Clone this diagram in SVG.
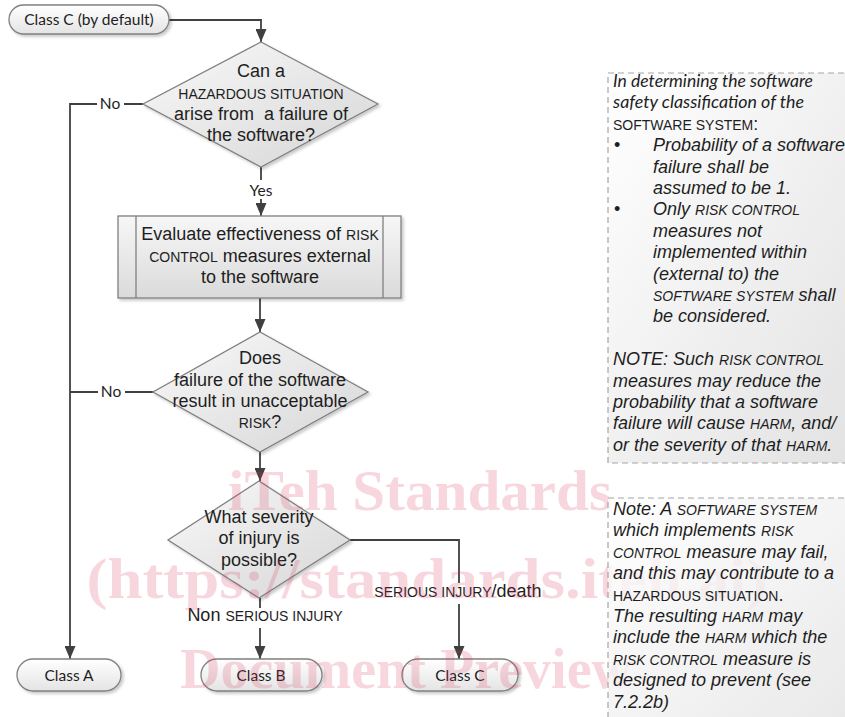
<svg xmlns="http://www.w3.org/2000/svg" width="845" height="717" viewBox="0 0 845 717">
<defs>
  <style>
    .t{font-family:"Liberation Sans",Arial,sans-serif;font-size:18px;fill:#1e1e1e;text-anchor:middle}
    .sc{font-size:14px}
    .cal{font-family:Lato,"Open Sans",sans-serif;font-size:15.5px;fill:#1e1e1e;text-anchor:middle}
    .n{font-family:"Liberation Sans",Arial,sans-serif;font-size:18px;font-style:italic;fill:#1e1e1e}
    .nsc{font-size:14px}
    .up{font-style:normal}
    .calI{font-family:Lato,"Open Sans",sans-serif;font-style:italic;font-size:17px;fill:#1e1e1e}
    .shape{stroke:#808080;stroke-width:1.3}
    .conn{fill:none;stroke:#404040;stroke-width:1.8}
    .wm{font-family:"Liberation Serif","Times New Roman",serif;font-weight:bold;font-size:58px;fill:#d9385e;opacity:0.2;text-anchor:middle}
    .note{stroke:#a6a6a6;stroke-width:1.2;stroke-dasharray:6 4}
  </style>
  <linearGradient id="termG" x1="0" y1="0" x2="0" y2="1">
    <stop offset="0" stop-color="#ffffff"/><stop offset="1" stop-color="#e4e4e4"/>
  </linearGradient>
  <linearGradient id="diaG" x1="0" y1="0" x2="1" y2="1">
    <stop offset="0" stop-color="#f9f9f9"/><stop offset="1" stop-color="#d6d6d6"/>
  </linearGradient>
  <linearGradient id="procG" x1="0" y1="0" x2="0" y2="1">
    <stop offset="0" stop-color="#f7f7f7"/><stop offset="1" stop-color="#dadada"/>
  </linearGradient>
  <linearGradient id="noteG" x1="0" y1="0" x2="1" y2="1">
    <stop offset="0" stop-color="#ffffff"/><stop offset="1" stop-color="#e2e2e2"/>
  </linearGradient>
  <filter id="sh" x="-10%" y="-10%" width="130%" height="140%">
    <feDropShadow dx="2" dy="2" stdDeviation="1.5" flood-color="#000" flood-opacity="0.22"/>
  </filter>
  <marker id="ah" viewBox="0 0 13 11" refX="13" refY="5.5" markerWidth="13" markerHeight="11" markerUnits="userSpaceOnUse" orient="auto">
    <path d="M0,0 L13,5.5 L0,11 z" fill="#404040"/>
  </marker>
</defs>
<rect width="845" height="717" fill="#ffffff"/>

<g id="connectors">
  <path class="conn" d="M169,20 H261 V42" marker-end="url(#ah)"/>
  <path class="conn" d="M261,167 V180 M261,199 V216" marker-end="url(#ah)"/>
  <path class="conn" d="M143,104 H124 M97,104 H70 V659" marker-end="url(#ah)"/>
  <path class="conn" d="M260,298 V332" marker-end="url(#ah)"/>
  <path class="conn" d="M153,392 H125 M98,392 H70"/>
  <path class="conn" d="M260,452 V481" marker-end="url(#ah)"/>
  <path class="conn" d="M260,598 V608 M260,628 V659" marker-end="url(#ah)"/>
  <path class="conn" d="M350,540 H459 V583 M459,604 V659" marker-end="url(#ah)"/>
  <text class="cal" x="110" y="109">No</text>
  <text class="cal" x="111" y="397">No</text>
  <text class="cal" x="261" y="196">Yes</text>
  <text class="t" x="265" y="621">Non <tspan class="sc">SERIOUS INJURY</tspan></text>
  <text class="t" x="458" y="597"><tspan class="sc">SERIOUS INJURY</tspan>/death</text>
</g>

<g id="start">
  <rect class="shape" x="9" y="5" width="160" height="29" rx="14.5" fill="url(#termG)" filter="url(#sh)"/>
  <text class="cal" x="89" y="25">Class C (by default)</text>
</g>

<g id="decision1">
  <polygon class="shape" points="261,42 378,104 261,167 143,104" fill="url(#diaG)" filter="url(#sh)"/>
  <text class="t" x="261" y="77">Can a</text>
  <text class="t sc" x="261" y="99">HAZARDOUS SITUATION</text>
  <text class="t" x="261" y="120" xml:space="preserve">arise from  a failure of</text>
  <text class="t" x="261" y="141">the software?</text>
</g>

<g id="process">
  <rect class="shape" x="118" y="216" width="283" height="82" fill="url(#procG)" filter="url(#sh)" stroke-width="1.6"/>
  <line class="shape" x1="136" y1="216" x2="136" y2="298"/>
  <line class="shape" x1="383" y1="216" x2="383" y2="298"/>
  <text class="t" x="260" y="240">Evaluate effectiveness of <tspan class="sc">RISK</tspan></text>
  <text class="t" x="260" y="262"><tspan class="sc">CONTROL</tspan> measures external</text>
  <text class="t" x="260" y="283">to the software</text>
</g>

<g id="decision2">
  <polygon class="shape" points="260,332 368,392 260,452 153,392" fill="url(#diaG)" filter="url(#sh)"/>
  <text class="t" x="260" y="364">Does</text>
  <text class="t" x="260" y="386">failure of the software</text>
  <text class="t" x="260" y="407">result in unacceptable</text>
  <text class="t" x="260" y="428"><tspan class="sc">RISK</tspan>?</text>
</g>

<g id="decision3">
  <polygon class="shape" points="259,481 350,540 259,598 168,540" fill="url(#diaG)" filter="url(#sh)"/>
  <text class="t" x="259" y="523">What severity</text>
  <text class="t" x="259" y="544">of injury is</text>
  <text class="t" x="259" y="566">possible?</text>
</g>

<g id="classA">
  <rect class="shape" x="17" y="659" width="104" height="32" rx="16" fill="url(#termG)" filter="url(#sh)"/>
  <text class="cal" x="69" y="681">Class A</text>
</g>
<g id="classB">
  <rect class="shape" x="201" y="659" width="121" height="32" rx="16" fill="url(#termG)" filter="url(#sh)"/>
  <text class="cal" x="261" y="681">Class B</text>
</g>
<g id="classC">
  <rect class="shape" x="402" y="659" width="116" height="32" rx="16" fill="url(#termG)" filter="url(#sh)"/>
  <text class="cal" x="460" y="681">Class C</text>
</g>

<g id="note1">
  <rect class="note" x="608" y="73" width="250" height="390" fill="url(#noteG)"/>
  <text class="calI" x="613" y="87" textLength="200" lengthAdjust="spacingAndGlyphs">In determining the software</text>
  <text class="calI" x="613" y="108.4" textLength="191" lengthAdjust="spacingAndGlyphs">safety classification of the</text>
  <text class="n up" x="613" y="129.8"><tspan class="nsc">SOFTWARE SYSTEM</tspan>:</text>
  <text class="n up" x="614" y="151.2">•</text>
  <text class="n" x="653" y="151.2">Probability of a software</text>
  <text class="n" x="653" y="172.6">failure shall be</text>
  <text class="n" x="653" y="194">assumed to be 1.</text>
  <text class="n up" x="614" y="215.4">•</text>
  <text class="n" x="653" y="215.4">Only <tspan class="nsc">RISK CONTROL</tspan></text>
  <text class="n" x="653" y="236.8">measures not</text>
  <text class="n" x="653" y="258.2">implemented within</text>
  <text class="n" x="653" y="279.6">(external to) the</text>
  <text class="n" x="653" y="301"><tspan class="nsc">SOFTWARE SYSTEM</tspan> shall</text>
  <text class="n" x="653" y="322.4">be considered.</text>
  <text class="n" x="613" y="365.2">NOTE: Such <tspan class="nsc">RISK CONTROL</tspan></text>
  <text class="n" x="613" y="386.6">measures may reduce the</text>
  <text class="n" x="613" y="408">probability that a software</text>
  <text class="n" x="613" y="429.4">failure will cause <tspan class="nsc">HARM</tspan>, and/</text>
  <text class="n" x="613" y="450.8">or the severity of that <tspan class="nsc">HARM</tspan>.</text>
</g>

<g id="watermark">
  <text class="wm" x="420" y="510" textLength="384" lengthAdjust="spacingAndGlyphs">iTeh Standards</text>
  <text class="wm" x="427" y="598" textLength="681" lengthAdjust="spacingAndGlyphs">(https://standards.iteh.ai)</text>
  <text class="wm" x="406" y="688" textLength="452" lengthAdjust="spacingAndGlyphs">Document Preview</text>
</g>

<g id="note2">
  <rect class="note" x="608" y="498" width="250" height="240" fill="url(#noteG)" fill-opacity="0.8"/>
  <text class="n" x="613" y="515">Note: A <tspan class="nsc">SOFTWARE SYSTEM</tspan></text>
  <text class="n" x="613" y="536.4">which implements <tspan class="nsc">RISK</tspan></text>
  <text class="n" x="613" y="557.8"><tspan class="nsc">CONTROL</tspan> measure may fail,</text>
  <text class="n" x="613" y="579.2">and this may contribute to a</text>
  <text class="n up" x="613" y="600.6"><tspan class="nsc">HAZARDOUS SITUATION</tspan>.</text>
  <text class="n" x="613" y="622">The resulting <tspan class="nsc">HARM</tspan> may</text>
  <text class="n" x="613" y="643.4">include the <tspan class="nsc">HARM</tspan> which the</text>
  <text class="n" x="613" y="664.8"><tspan class="nsc">RISK CONTROL</tspan> measure is</text>
  <text class="n" x="613" y="686.2">designed to prevent (see</text>
  <text class="n" x="613" y="707.6">7.2.2b)</text>
</g>
</svg>
